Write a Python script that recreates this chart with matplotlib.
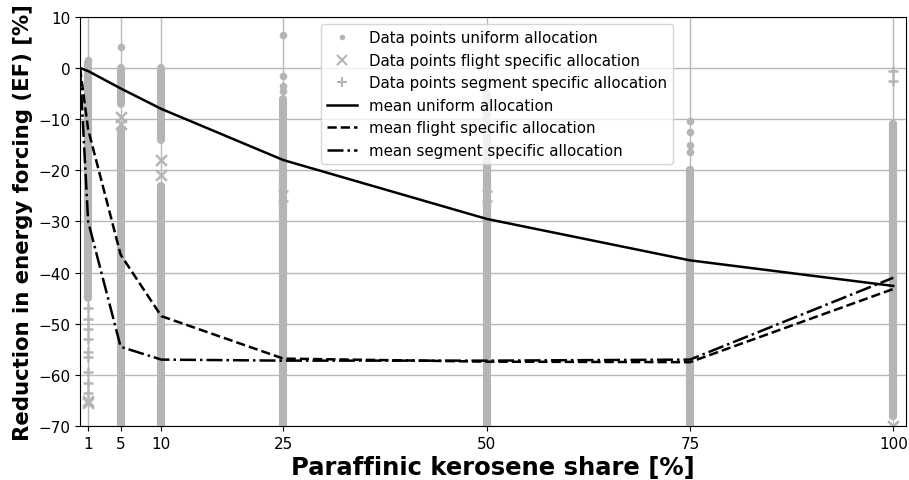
import matplotlib
matplotlib.use("Agg")
import matplotlib.pyplot as plt
from matplotlib.lines import Line2D

# Paraffinic kerosene shares (%) at which the fleet was evaluated
shares = [1, 5, 10, 25, 50, 75, 100]
mean_x = [0, 1, 5, 10, 25, 50, 75, 100]

# Mean reduction in energy forcing (%) per allocation scheme
mean_uniform = [0, -0.6, -4.0, -8.0, -18.0, -29.5, -37.6, -42.6]
mean_flight = [0, -12.0, -36.5, -48.5, -56.8, -57.4, -57.5, -43.2]
mean_segment = [0, -30.0, -54.5, -57.0, -57.2, -57.2, -57.0, -41.0]

# Densely populated ranges of the individual flight results (upper, lower)
uniform_hi = [1.0, 0.0, 0.0, -6.0, -5.0, -20.0, -11.0]
uniform_lo = [-8.0, -7.0, -14.0, -40.0, -55.0, -65.0, -66.0]
flight_hi = [-2.0, -12.0, -23.0, -20.0, -20.0, -20.0, -11.0]
flight_lo = [-40.0, -70.0, -70.0, -70.0, -70.0, -70.0, -68.0]
segment_hi = [-2.0, -12.0, -23.0, -20.0, -20.0, -20.0, -11.0]
segment_lo = [-45.0, -70.0, -70.0, -70.0, -70.0, -70.0, -68.0]

# Isolated individual results outside the dense ranges
uniform_pts_x = [1, 5, 25, 25, 25, 25, 75, 75, 75, 75, 100]
uniform_pts_y = [1.5, 4.0, 6.5, -1.5, -3.5, -4.5, -10.4, -12.5, -15.0, -16.5, -67.5]
flight_pts_x = [1, 1, 5, 5, 10, 10, 100]
flight_pts_y = [-65.5, -65.0, -9.5, -11.0, -18.0, -21.0, -70.0]
segment_pts_x = [1, 1, 1, 1, 1, 1, 1, 1, 1, 25, 25, 50, 50, 100, 100]
segment_pts_y = [-47, -49, -51, -53, -55.5, -56.5, -59.5, -61.5, -63.5,
                 -24, -26, -24, -26, -0.5, -2.5]

pt_color = "#b5b5b5"

fig = plt.figure(figsize=(9.09, 4.81), dpi=100)
ax = fig.add_axes([0.088, 0.112, 0.909, 0.851])

ax.grid(True, color="#b8b8b8", linewidth=1.0, zorder=0)
ax.set_axisbelow(True)

# dense parts of each column of individual results
for hi_list, lo_list in ((uniform_hi, uniform_lo), (flight_hi, flight_lo),
                         (segment_hi, segment_lo)):
    for x, hi, lo in zip(shares, hi_list, lo_list):
        ax.plot([x, x], [lo, hi], color=pt_color, linewidth=5.8,
                solid_capstyle="round", zorder=2)

ax.scatter(uniform_pts_x, uniform_pts_y, marker="o", s=30, color=pt_color,
           linewidths=0, zorder=2)
ax.scatter(flight_pts_x, flight_pts_y, marker="x", s=60, color=pt_color,
           linewidths=1.8, zorder=2)
ax.scatter(segment_pts_x, segment_pts_y, marker="+", s=60, color=pt_color,
           linewidths=1.8, zorder=2)

ax.plot(mean_x, mean_uniform, color="black", linestyle="-", linewidth=1.8, zorder=3)
ax.plot(mean_x, mean_flight, color="black", linestyle="--", linewidth=1.8, zorder=3)
ax.plot(mean_x, mean_segment, color="black", linestyle="-.", linewidth=1.8, zorder=3)

ax.set_xlim(0, 101.6)
ax.set_ylim(-70, 10)
ax.set_xticks(shares)
ax.set_yticks(range(-70, 11, 10))
ax.tick_params(labelsize=11)

ax.set_xlabel("Paraffinic kerosene share [%]", fontsize=17.5, fontweight="bold",
              labelpad=3)
ax.set_ylabel("Reduction in energy forcing (EF) [%]", fontsize=15.3,
              fontweight="bold")

handles = [
    Line2D([], [], linestyle="none", marker="o", markersize=4, color=pt_color,
           markeredgewidth=0),
    Line2D([], [], linestyle="none", marker="x", markersize=7, color=pt_color,
           markeredgewidth=1.5),
    Line2D([], [], linestyle="none", marker="+", markersize=7, color=pt_color,
           markeredgewidth=1.5),
    Line2D([], [], color="black", linestyle="-", linewidth=1.8),
    Line2D([], [], color="black", linestyle="--", linewidth=1.8),
    Line2D([], [], color="black", linestyle="-.", linewidth=1.8),
]
labels = [
    "Data points uniform allocation",
    "Data points flight specific allocation",
    "Data points segment specific allocation",
    "mean uniform allocation",
    "mean flight specific allocation",
    "mean segment specific allocation",
]
ax.legend(handles, labels, loc="upper center", fontsize=10.8, framealpha=0.8,
          borderaxespad=0.5, labelspacing=0.5, bbox_to_anchor=(0.505, 1.0))

fig.savefig("out.png", dpi=100)
